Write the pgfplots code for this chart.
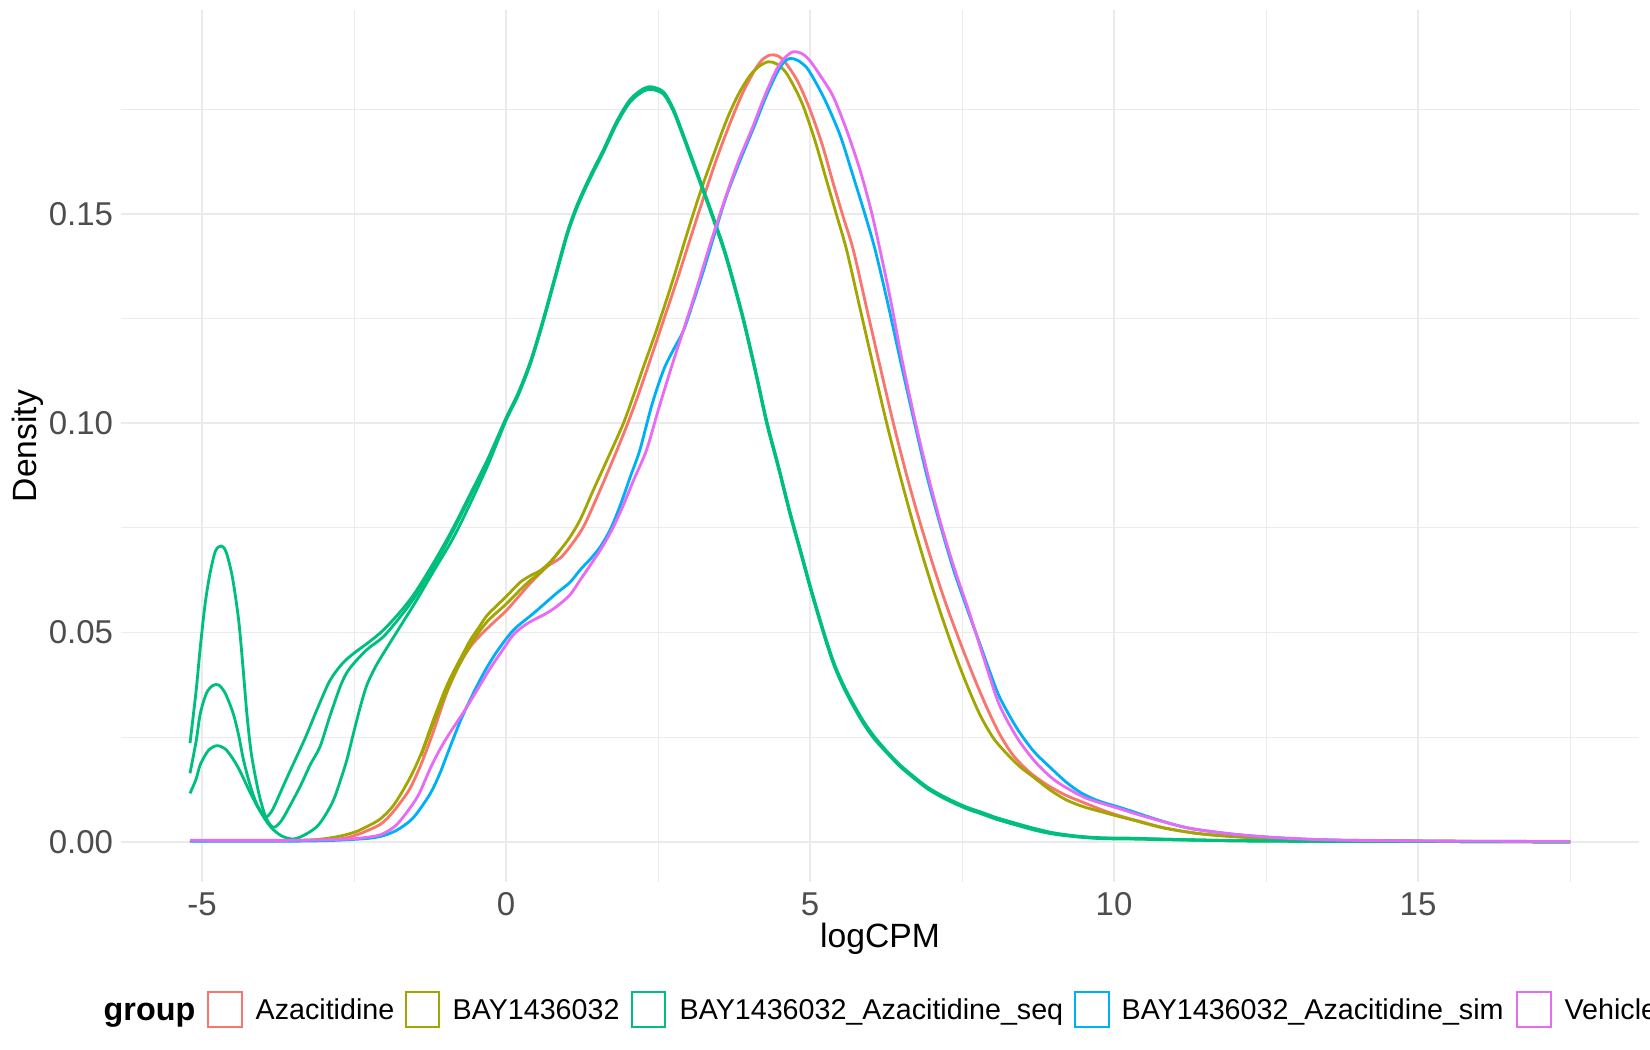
\documentclass[border=0pt]{standalone}
\usepackage{fontspec}
\setmainfont{Liberation Sans}
\usepackage{pgfplots}
\pgfplotsset{compat=1.18}
\definecolor{cA}{HTML}{F8766D}
\definecolor{cB}{HTML}{A3A500}
\definecolor{cC}{HTML}{00BF7D}
\definecolor{cD}{HTML}{00B0F6}
\definecolor{cE}{HTML}{E76BF3}
\definecolor{gridc}{HTML}{EBEBEB}
\definecolor{tickc}{HTML}{4D4D4D}
\begin{document}
\begin{tikzpicture}[x=1pt,y=1pt]
\begin{axis}[
  at={(36.3pt,50.52pt)}, anchor=south west,
  width=455.4pt, height=261.33pt, scale only axis,
  xmin=-6.335, xmax=18.635, ymin=-0.00946, ymax=0.19855,
  axis line style={draw=none},
  tick style={draw=none},
  major tick length=0pt, minor tick length=0pt,
  xtick={-5,0,5,10,15}, xticklabels={-5,0,5,10,15},
  ytick={0,0.05,0.1,0.15}, yticklabels={0.00,0.05,0.10,0.15},
  minor xtick={-2.5,2.5,7.5,12.5,17.5},
  minor ytick={0.025,0.075,0.125,0.175},
  grid=both,
  major grid style={draw=gridc, line width=0.5pt},
  minor grid style={draw=gridc, line width=0.28pt},
  tick label style={font=\fontsize{9.9}{12}\selectfont, text=tickc},
  xticklabel style={anchor=base, yshift=-10.17pt, inner sep=0pt},
  yticklabel style={anchor=east, xshift=-2.2pt, inner sep=0pt},
  xlabel={logCPM}, ylabel={Density},
  label style={font=\fontsize{10.1}{12}\selectfont},
  xlabel style={at={(axis description cs:0.5,-0.0762)}, anchor=base, inner sep=0pt},
  ylabel style={at={(axis description cs:-0.0613,0.5)}, anchor=center, inner sep=0pt},
  every axis plot/.append style={line width=0.85pt, line join=round, smooth},
]
% Azacitidine
\addplot[cA] coordinates {
(-5.2,0.0003) (-4.0,0.0003) (-3.0,0.0004) (-2.7,0.0008) (-2.5,0.0015) (-2.3,0.0026)
(-2.07,0.0042) (-1.9,0.0065) (-1.75,0.0092) (-1.58,0.0128) (-1.4,0.0185) (-1.2,0.0262)
(-0.98,0.0355) (-0.78,0.0420) (-0.59,0.0466) (-0.4,0.0497) (-0.2,0.0525) (0.0,0.0552)
(0.2,0.0585) (0.4,0.0618) (0.67,0.0657) (0.89,0.0678) (1.05,0.0705) (1.27,0.0752)
(1.5,0.0825) (1.75,0.0910) (1.98,0.0992) (2.15,0.1058) (2.31,0.1125) (2.59,0.1246)
(2.83,0.1350) (3.05,0.1450) (3.24,0.1535) (3.46,0.1630) (3.68,0.1715) (3.88,0.1785)
(4.07,0.1838) (4.2,0.1866) (4.34,0.1879) (4.47,0.1877) (4.6,0.1860) (4.8,0.1815)
(5.0,0.1748) (5.2,0.1665) (5.38,0.1573) (5.55,0.1490) (5.71,0.1414) (5.93,0.1275)
(6.15,0.1136) (6.37,0.1000) (6.59,0.0875) (6.81,0.0762) (7.03,0.0658) (7.25,0.0562)
(7.47,0.0476) (7.69,0.0395) (7.91,0.0320) (8.12,0.0257) (8.34,0.0207) (8.6,0.0168)
(8.89,0.0137) (9.2,0.0112) (9.5,0.0094) (9.85,0.0074) (10.15,0.0060) (10.43,0.0049)
(10.82,0.0034) (11.3,0.0022) (11.8,0.0015) (12.5,0.0009) (13.2,0.0005) (14,0.0003)
(15,0.0002) (16,0.0001) (17.5,0.0001)
};
% BAY1436032
\addplot[cB] coordinates {
(-5.2,0.0003) (-4.0,0.0003) (-3.2,0.0005) (-2.8,0.0012) (-2.5,0.0023) (-2.3,0.0036)
(-2.07,0.0055) (-1.85,0.0088) (-1.6,0.0148) (-1.4,0.0210) (-1.2,0.0290) (-1.0,0.0365)
(-0.87,0.0405) (-0.7,0.0452) (-0.59,0.0482) (-0.45,0.0512) (-0.32,0.0540) (-0.15,0.0565)
(0.0,0.0586) (0.23,0.0620) (0.4,0.0636) (0.56,0.0648) (0.72,0.0668) (0.89,0.0697)
(1.05,0.0728) (1.22,0.0770) (1.44,0.0842) (1.7,0.0925) (1.93,0.1000) (2.1,0.1068)
(2.26,0.1135) (2.48,0.1225) (2.75,0.1345) (2.97,0.1450) (3.19,0.1550) (3.41,0.1640)
(3.63,0.1725) (3.82,0.1785) (4.01,0.1830) (4.16,0.1852) (4.31,0.1863) (4.45,0.1858)
(4.6,0.1838) (4.75,0.1800) (4.89,0.1756) (5.08,0.1675) (5.27,0.1580) (5.44,0.1495)
(5.6,0.1414) (5.82,0.1275) (6.04,0.1136) (6.26,0.1000) (6.48,0.0875) (6.7,0.0758)
(6.92,0.0650) (7.14,0.0550) (7.36,0.0458) (7.58,0.0375) (7.8,0.0302) (8.02,0.0247)
(8.24,0.0210) (8.45,0.0180) (8.7,0.0152) (8.95,0.0124) (9.22,0.0100) (9.5,0.0084)
(9.77,0.0073) (10.05,0.0062) (10.32,0.0052) (10.6,0.0041) (10.9,0.0031) (11.5,0.0018)
(12.5,0.0008) (13.5,0.0004) (15,0.0002) (16.5,0.0001) (17.5,0.0001)
};
\addplot[cB] coordinates {
(-1.4,0.0205) (-1.2,0.0282) (-0.87,0.0395) (-0.59,0.0470) (-0.32,0.0525) (0.0,0.0568)
(0.23,0.0602) (0.4,0.0625) (0.56,0.0643) (0.72,0.0666) (0.89,0.0697)
};
% BAY1436032_Azacitidine_seq (three samples)
\addplot[cC] coordinates {
(-5.2,0.0236) (-5.1,0.0360) (-5.03,0.0466) (-4.95,0.0570) (-4.87,0.0642) (-4.78,0.0695)
(-4.68,0.0707) (-4.6,0.0690) (-4.5,0.0630) (-4.4,0.0530) (-4.33,0.0420) (-4.265,0.0307)
(-4.2,0.0220) (-4.13,0.0160) (-4.05,0.0105) (-3.95,0.0058) (-3.83,0.0035) (-3.7,0.0050)
(-3.55,0.0088) (-3.38,0.0135) (-3.22,0.0185) (-3.06,0.0228) (-2.9,0.0300) (-2.71,0.0378)
(-2.57,0.0415) (-2.3,0.0458) (-2.02,0.0490) (-1.74,0.0538) (-1.5,0.0585) (-1.2,0.0655)
(-0.9,0.0735) (-0.6,0.0822) (-0.3,0.0912) (0.0,0.1010)
(0.2,0.1070) (0.4,0.1145) (0.6,0.1240) (0.8,0.1345) (1.0,0.1450) (1.15,0.1512)
(1.3,0.1562) (1.45,0.1607) (1.6,0.1650) (1.82,0.1718) (2.04,0.1770) (2.26,0.1796)
(2.4,0.1800) (2.59,0.1788) (2.75,0.1748) (2.92,0.1684) (3.14,0.1597) (3.36,0.1509)
(3.57,0.1421) (3.71,0.1352) (3.9,0.1249) (4.1,0.1125)
(4.29,0.1000) (4.48,0.0895) (4.67,0.0785) (4.85,0.0690) (5.0,0.0610) (5.14,0.0540)
(5.27,0.0478) (5.4,0.0422) (5.55,0.0372) (5.7,0.0330) (5.88,0.0285) (6.05,0.0250)
(6.26,0.0215) (6.48,0.0182) (6.7,0.0155) (6.92,0.0130) (7.14,0.0111) (7.36,0.0095)
(7.58,0.0081) (7.8,0.0070) (8.07,0.0056) (8.4,0.0042) (8.7,0.0030) (9.0,0.0020)
(9.4,0.0013) (9.8,0.0009) (10.3,0.0008) (11.0,0.0006) (12.0,0.0003) (13.0,0.0002)
(14.0,0.0001) (15.5,0.0001) (17.5,0.0000)
};
\addplot[cC] coordinates {
(-5.2,0.0164) (-5.1,0.0240) (-5.03,0.0307) (-4.93,0.0355) (-4.83,0.0373) (-4.73,0.0375)
(-4.62,0.0355) (-4.49,0.0307) (-4.4,0.0255) (-4.32,0.0196) (-4.21,0.0135) (-4.1,0.0090)
(-3.96,0.0060) (-3.85,0.0075) (-3.72,0.0116) (-3.6,0.0155) (-3.47,0.0196) (-3.3,0.0250)
(-3.1,0.0320) (-2.9,0.0385) (-2.7,0.0425) (-2.51,0.0450) (-2.25,0.0478) (-2.02,0.0506)
(-1.74,0.0550) (-1.5,0.0595) (-1.2,0.0665) (-0.9,0.0742) (-0.6,0.0828) (-0.3,0.0915)
(0.0,0.1013)
(0.2,0.1073) (0.4,0.1148) (0.6,0.1243) (0.8,0.1348) (1.0,0.1453) (1.15,0.1515)
(1.3,0.1565) (1.45,0.1610) (1.6,0.1653) (1.82,0.1721) (2.04,0.1773) (2.26,0.1799)
(2.4,0.1803) (2.59,0.1791) (2.75,0.1751) (2.92,0.1687) (3.14,0.1600) (3.36,0.1512)
(3.57,0.1424) (3.71,0.1355) (3.9,0.1252) (4.1,0.1128)
(4.29,0.1003) (4.48,0.0898) (4.67,0.0788) (4.85,0.0693) (5.0,0.0613) (5.14,0.0543)
(5.27,0.0481) (5.4,0.0425) (5.55,0.0375) (5.7,0.0333) (5.88,0.0288) (6.05,0.0253)
(6.26,0.0217) (6.48,0.0184) (6.7,0.0157) (6.92,0.0132) (7.14,0.0113) (7.36,0.0097)
(7.58,0.0083) (7.8,0.0072) (8.07,0.0058) (8.4,0.0044) (8.7,0.0032) (9.0,0.0022)
(9.4,0.0014) (9.8,0.0010) (10.3,0.0009) (11.0,0.0006) (12.0,0.0003) (13.0,0.0002)
(14.0,0.0001) (15.5,0.0001) (17.5,0.0000)
};
\addplot[cC] coordinates {
(-5.2,0.0116) (-5.1,0.0150) (-5.03,0.0185) (-4.9,0.0218) (-4.76,0.0230) (-4.62,0.0222)
(-4.5,0.0200) (-4.38,0.0170) (-4.21,0.0118) (-4.05,0.0074) (-3.88,0.0037) (-3.7,0.0015)
(-3.5,0.0007) (-3.3,0.0018) (-3.11,0.0037) (-2.97,0.0065) (-2.84,0.0100) (-2.73,0.0145)
(-2.62,0.0196) (-2.51,0.0260) (-2.4,0.0322) (-2.29,0.0375) (-2.15,0.0418) (-2.02,0.0450)
(-1.74,0.0515) (-1.47,0.0578) (-1.2,0.0645) (-0.9,0.0718) (-0.65,0.0790) (-0.3,0.0900)
(0.0,0.1007)
(0.2,0.1067) (0.4,0.1142) (0.6,0.1237) (0.8,0.1342) (1.0,0.1447) (1.15,0.1509)
(1.3,0.1559) (1.45,0.1604) (1.6,0.1647) (1.82,0.1715) (2.04,0.1767) (2.26,0.1793)
(2.4,0.1797) (2.59,0.1785) (2.75,0.1745) (2.92,0.1681) (3.14,0.1594) (3.36,0.1506)
(3.57,0.1418) (3.71,0.1349) (3.9,0.1246) (4.1,0.1122)
(4.29,0.0997) (4.48,0.0892) (4.67,0.0782) (4.85,0.0687) (5.0,0.0607) (5.14,0.0537)
(5.27,0.0475) (5.4,0.0419) (5.55,0.0369) (5.7,0.0327) (5.88,0.0282) (6.05,0.0247)
(6.26,0.0213) (6.48,0.0180) (6.7,0.0153) (6.92,0.0128) (7.14,0.0109) (7.36,0.0093)
(7.58,0.0079) (7.8,0.0068) (8.07,0.0054) (8.4,0.0040) (8.7,0.0028) (9.0,0.0019)
(9.4,0.0012) (9.8,0.0008) (10.3,0.0007) (11.0,0.0005) (12.0,0.0003) (13.0,0.0002)
(14.0,0.0001) (15.5,0.0001) (17.5,0.0000)
};
% BAY1436032_Azacitidine_sim
\addplot[cD] coordinates {
(-5.2,0.0002) (-3.5,0.0002) (-2.8,0.0004) (-2.24,0.0009) (-2.0,0.0016) (-1.8,0.0028)
(-1.6,0.0048) (-1.47,0.0068) (-1.25,0.0115) (-1.1,0.0160) (-0.98,0.0205) (-0.75,0.0290)
(-0.54,0.0355) (-0.35,0.0408) (-0.15,0.0455) (0.12,0.0506) (0.45,0.0546) (0.83,0.0594)
(1.05,0.0620) (1.22,0.0650) (1.4,0.0678) (1.55,0.0705) (1.72,0.0748) (1.88,0.0805)
(2.05,0.0875) (2.2,0.0936) (2.4,0.1045) (2.59,0.1127) (2.75,0.1175) (2.92,0.1222)
(3.08,0.1290) (3.25,0.1366) (3.45,0.1462) (3.63,0.1545) (3.85,0.1628) (4.07,0.1705)
(4.27,0.1778) (4.45,0.1835) (4.57,0.1862) (4.67,0.1871) (4.8,0.1866) (4.95,0.1848)
(5.1,0.1812) (5.27,0.1764) (5.5,0.1685) (5.71,0.1589) (5.9,0.1500) (6.07,0.1414)
(6.28,0.1285) (6.48,0.1153) (6.7,0.1012) (6.92,0.0875) (7.14,0.0758) (7.36,0.0650)
(7.58,0.0558) (7.8,0.0470) (7.96,0.0405) (8.12,0.0345) (8.4,0.0272) (8.67,0.0218)
(8.95,0.0178) (9.22,0.0142) (9.45,0.0118) (9.66,0.0103) (9.85,0.0093) (10.04,0.0085)
(10.3,0.0073) (10.59,0.0059) (11.0,0.0041) (11.35,0.0030) (12.0,0.0018) (12.7,0.0010)
(13.5,0.0005) (14.5,0.0003) (15.5,0.0002) (17.5,0.0001)
};
% Vehicle
\addplot[cE] coordinates {
(-5.2,0.0004) (-3.5,0.0004) (-2.6,0.0007) (-2.3,0.0011) (-2.07,0.0017) (-1.85,0.0035)
(-1.69,0.0060) (-1.45,0.0110) (-1.25,0.0175) (-1.1,0.0218) (-0.95,0.0255) (-0.7,0.0310)
(-0.48,0.0362) (-0.26,0.0415) (-0.05,0.0460) (0.12,0.0495) (0.3,0.0517) (0.45,0.0530)
(0.65,0.0545) (0.83,0.0562) (1.05,0.0590) (1.22,0.0626) (1.38,0.0660) (1.55,0.0697)
(1.75,0.0748) (1.93,0.0805) (2.1,0.0865) (2.31,0.0936) (2.5,0.1030) (2.7,0.1125)
(2.9,0.1215) (3.1,0.1305) (3.36,0.1429) (3.6,0.1535) (3.82,0.1625) (4.05,0.1705)
(4.25,0.1780) (4.45,0.1845) (4.6,0.1875) (4.73,0.1887) (4.87,0.1882) (5.0,0.1865)
(5.2,0.1823) (5.38,0.1780) (5.6,0.1700) (5.82,0.1605) (6.0,0.1510) (6.15,0.1414)
(6.33,0.1290) (6.5,0.1160) (6.72,0.1010) (6.94,0.0875) (7.16,0.0755) (7.38,0.0650)
(7.6,0.0556) (7.8,0.0465) (7.96,0.0392) (8.12,0.0325) (8.4,0.0250) (8.7,0.0192)
(9.0,0.0150) (9.28,0.0124) (9.55,0.0104) (9.85,0.0090) (10.1,0.0079) (10.43,0.0064)
(11.0,0.0041) (11.35,0.0030) (12.0,0.0018) (12.7,0.0010) (13.5,0.0005) (14.5,0.0003)
(15.5,0.0002) (17.5,0.0001)
};
\end{axis}
% legend
\node[anchor=base west, inner sep=0pt, font=\bfseries\fontsize{9.7}{11}\selectfont] at (30.9,8.9) {group};
\draw[cA, line width=0.6pt, fill=white] (62.4,7.0) rectangle (72.6,17.5);
\node[anchor=base west, inner sep=0pt, font=\fontsize{8.6}{10}\selectfont] at (76.5,9.0) {Azacitidine};
\draw[cB, line width=0.6pt, fill=white] (121.8,7.0) rectangle (131.7,17.5);
\node[anchor=base west, inner sep=0pt, font=\fontsize{8.6}{10}\selectfont] at (135.6,9.0) {BAY1436032};
\draw[cC, line width=0.6pt, fill=white] (189.6,7.0) rectangle (199.5,17.5);
\node[anchor=base west, inner sep=0pt, font=\fontsize{8.6}{10}\selectfont] at (203.7,9.0) {BAY1436032\_Azacitidine\_seq};
\draw[cD, line width=0.6pt, fill=white] (322.5,7.0) rectangle (332.7,17.5);
\node[anchor=base west, inner sep=0pt, font=\fontsize{8.6}{10}\selectfont] at (336.3,9.0) {BAY1436032\_Azacitidine\_sim};
\draw[cE, line width=0.6pt, fill=white] (455.1,7.0) rectangle (465.3,17.5);
\node[anchor=base west, inner sep=0pt, font=\fontsize{8.6}{10}\selectfont] at (469.2,9.0) {Vehicle};
\pgfresetboundingbox
\path[use as bounding box] (0,0) rectangle (495,315);
\end{tikzpicture}
\end{document}
